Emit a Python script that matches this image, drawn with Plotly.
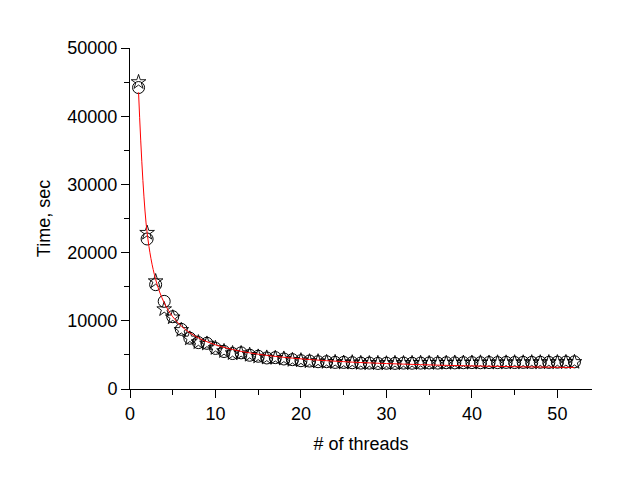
import plotly.graph_objects as go

threads = list(range(1, 53))

time_circle = [44200, 22000, 15300, 12850, 10600, 8750, 7450, 6800, 6700, 5950,
               5500, 5200, 5300, 4950, 4800, 4550, 4600, 4400, 4300, 4150,
               4100, 4000, 4000, 3900, 3900, 3850, 3800, 3800, 3750, 3780,
               3760, 3800, 3780, 3800, 3820, 3800, 3850, 3830, 3850, 3870,
               3850, 3880, 3870, 3900, 3880, 3900, 3900, 3920, 3900, 3930,
               3950, 3980]

time_star = [45000, 22900, 15800, 11700, 10500, 8650, 7400, 6850, 6650, 6000,
             5550, 5250, 5250, 5000, 4750, 4600, 4550, 4450, 4250, 4200,
             4050, 4050, 3950, 3950, 3850, 3900, 3800, 3780, 3800, 3750,
             3800, 3780, 3800, 3820, 3800, 3840, 3820, 3860, 3850, 3860,
             3880, 3860, 3890, 3880, 3900, 3890, 3910, 3900, 3920, 3920,
             3940, 3960]

time_fit = [43500, 22930, 16070, 12640, 10590, 9220, 8240, 7500, 6930, 6470,
            6100, 5790, 5520, 5300, 5100, 4930, 4780, 4650, 4530, 4420,
            4320, 4230, 4150, 4080, 4010, 3940, 3880, 3830, 3780, 3730,
            3690, 3650, 3610, 3570, 3540, 3500, 3470, 3440, 3410, 3390,
            3360, 3340, 3320, 3290, 3270, 3250, 3240, 3220, 3200, 3180,
            3170, 3150]

x_ticks = [0, 10, 20, 30, 40, 50]
y_ticks = [0, 10000, 20000, 30000, 40000, 50000]

font = dict(family="Liberation Sans, Arial, sans-serif", size=18, color="black")

fig = go.Figure()
fig.add_trace(go.Scatter(
    x=threads, y=time_circle, mode="markers",
    marker=dict(symbol="circle-open", size=12, color="black", line=dict(width=1, color="black")),
    showlegend=False))
fig.add_trace(go.Scatter(
    x=threads, y=time_star, mode="markers",
    marker=dict(symbol="star-open", size=11, color="black", line=dict(width=0.9, color="black")),
    showlegend=False))
fig.add_trace(go.Scatter(
    x=threads, y=time_fit, mode="lines",
    line=dict(color="red", width=1, shape="spline", smoothing=1.0),
    showlegend=False))

fig.update_layout(
    width=628, height=486,
    margin=dict(l=130, r=36, t=48, b=97),
    paper_bgcolor="white", plot_bgcolor="white",
    font=font,
    xaxis=dict(
        range=[0, 54.05], tickvals=x_ticks, ticktext=[str(v) for v in x_ticks],
        showgrid=False, zeroline=False, showline=True, linecolor="black", linewidth=1,
        ticks="outside", ticklen=8, tickwidth=1, tickcolor="black",
        minor=dict(dtick=5, ticks="outside", ticklen=5, tickwidth=1, tickcolor="black", showgrid=False),
        title=dict(text="# of threads", font=font, standoff=14),
        tickfont=font,
    ),
    yaxis=dict(
        range=[0, 50000], tickvals=y_ticks, ticktext=[str(v) for v in y_ticks],
        showgrid=False, zeroline=False, showline=True, linecolor="black", linewidth=1,
        ticks="outside", ticklen=8, tickwidth=1, tickcolor="black",
        minor=dict(dtick=5000, ticks="outside", ticklen=5, tickwidth=1, tickcolor="black", showgrid=False),
        title=dict(text="Time, sec", font=font, standoff=12),
        tickfont=font,
    ),
)

fig.write_html("out.html")
